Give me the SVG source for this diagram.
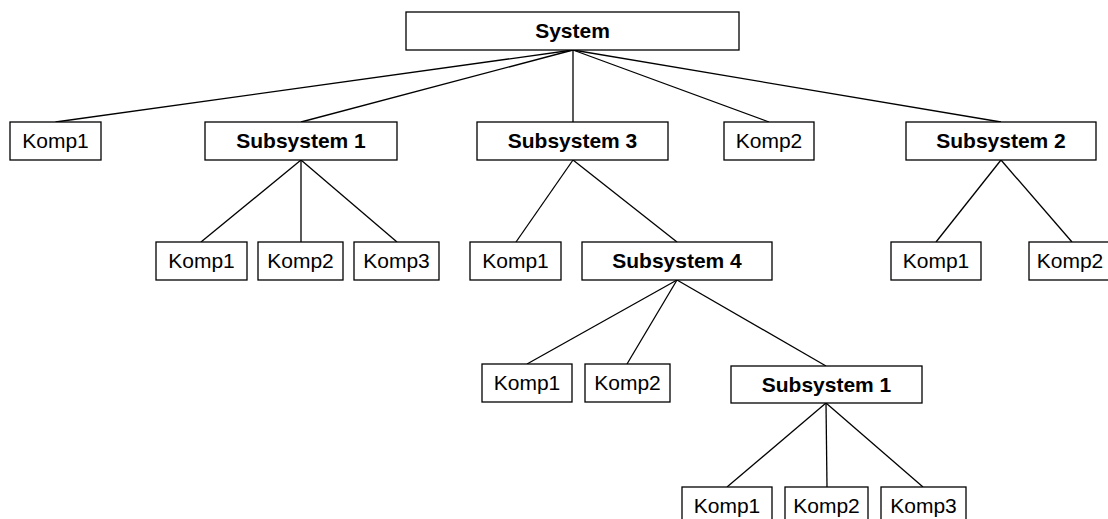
<svg xmlns="http://www.w3.org/2000/svg" width="1108" height="519" viewBox="0 0 1108 519">
  <style>
    .box { fill: #ffffff; stroke: #000000; stroke-width: 1.3; }
    .edge { stroke: #000000; stroke-width: 1.3; fill: none; }
    .lbl { font-family: "Liberation Sans", Arial, sans-serif; font-size: 21px; fill: #000000; text-anchor: middle; }
    .sub { font-weight: bold; }
  </style>
  <rect width="1108" height="519" fill="#ffffff"/>

  <!-- connectors -->
  <g id="connectors">
    <line class="edge" x1="573" y1="50" x2="55.5" y2="122"/>
    <line class="edge" x1="573" y1="50" x2="301" y2="122"/>
    <line class="edge" x1="573" y1="50" x2="573" y2="122"/>
    <line class="edge" x1="573" y1="50" x2="769" y2="122"/>
    <line class="edge" x1="573" y1="50" x2="1001" y2="122"/>

    <line class="edge" x1="301" y1="160" x2="201" y2="242"/>
    <line class="edge" x1="301" y1="160" x2="301" y2="242"/>
    <line class="edge" x1="301" y1="160" x2="397" y2="242"/>

    <line class="edge" x1="573" y1="160" x2="516" y2="242"/>
    <line class="edge" x1="573" y1="160" x2="677" y2="242"/>

    <line class="edge" x1="1001" y1="160" x2="936" y2="242"/>
    <line class="edge" x1="1001" y1="160" x2="1072" y2="242"/>

    <line class="edge" x1="677" y1="280" x2="527" y2="364"/>
    <line class="edge" x1="677" y1="280" x2="627" y2="364"/>
    <line class="edge" x1="677" y1="280" x2="826" y2="366"/>

    <line class="edge" x1="826" y1="403" x2="727" y2="487"/>
    <line class="edge" x1="826" y1="403" x2="827" y2="487"/>
    <line class="edge" x1="826" y1="403" x2="923" y2="487"/>
  </g>

  <!-- root -->
  <g id="system">
    <rect class="box" x="406" y="12" width="333" height="38"/>
    <text class="lbl sub" x="572.5" y="38">System</text>
  </g>

  <!-- first level -->
  <g id="komp1-top">
    <rect class="box" x="10" y="122" width="91" height="38"/>
    <text class="lbl" x="55.5" y="148">Komp1</text>
  </g>
  <g id="subsystem1">
    <rect class="box" x="205" y="122" width="192" height="38"/>
    <text class="lbl sub" x="301" y="148">Subsystem 1</text>
  </g>
  <g id="subsystem3">
    <rect class="box" x="477" y="122" width="191" height="38"/>
    <text class="lbl sub" x="572.5" y="148">Subsystem 3</text>
  </g>
  <g id="komp2-top">
    <rect class="box" x="724" y="122" width="90" height="38"/>
    <text class="lbl" x="769" y="148">Komp2</text>
  </g>
  <g id="subsystem2">
    <rect class="box" x="906" y="122" width="190" height="38"/>
    <text class="lbl sub" x="1001" y="148">Subsystem 2</text>
  </g>

  <!-- Subsystem 1 parts -->
  <g id="s1-komp1">
    <rect class="box" x="156" y="242" width="91" height="38"/>
    <text class="lbl" x="201.5" y="268">Komp1</text>
  </g>
  <g id="s1-komp2">
    <rect class="box" x="258" y="242" width="85" height="38"/>
    <text class="lbl" x="300.5" y="268">Komp2</text>
  </g>
  <g id="s1-komp3">
    <rect class="box" x="354" y="242" width="85" height="38"/>
    <text class="lbl" x="396.5" y="268">Komp3</text>
  </g>

  <!-- Subsystem 3 parts -->
  <g id="s3-komp1">
    <rect class="box" x="470" y="242" width="91" height="38"/>
    <text class="lbl" x="515.5" y="268">Komp1</text>
  </g>
  <g id="subsystem4">
    <rect class="box" x="582" y="242" width="190" height="38"/>
    <text class="lbl sub" x="677" y="268">Subsystem 4</text>
  </g>

  <!-- Subsystem 2 parts -->
  <g id="s2-komp1">
    <rect class="box" x="891" y="242" width="90" height="38"/>
    <text class="lbl" x="936" y="268">Komp1</text>
  </g>
  <g id="s2-komp2">
    <rect class="box" x="1029" y="242" width="85" height="38"/>
    <text class="lbl" x="1070" y="268">Komp2</text>
  </g>

  <!-- Subsystem 4 parts -->
  <g id="s4-komp1">
    <rect class="box" x="482" y="364" width="90" height="38"/>
    <text class="lbl" x="527" y="390">Komp1</text>
  </g>
  <g id="s4-komp2">
    <rect class="box" x="585" y="364" width="85" height="38"/>
    <text class="lbl" x="627.5" y="390">Komp2</text>
  </g>
  <g id="s4-subsystem1">
    <rect class="box" x="731" y="366" width="191" height="37"/>
    <text class="lbl sub" x="826.5" y="392">Subsystem 1</text>
  </g>

  <!-- nested Subsystem 1 parts -->
  <g id="s41-komp1">
    <rect class="box" x="682" y="487" width="90" height="38"/>
    <text class="lbl" x="727" y="513">Komp1</text>
  </g>
  <g id="s41-komp2">
    <rect class="box" x="785" y="487" width="83" height="38"/>
    <text class="lbl" x="826.5" y="513">Komp2</text>
  </g>
  <g id="s41-komp3">
    <rect class="box" x="881" y="487" width="85" height="38"/>
    <text class="lbl" x="923.5" y="513">Komp3</text>
  </g>
</svg>
